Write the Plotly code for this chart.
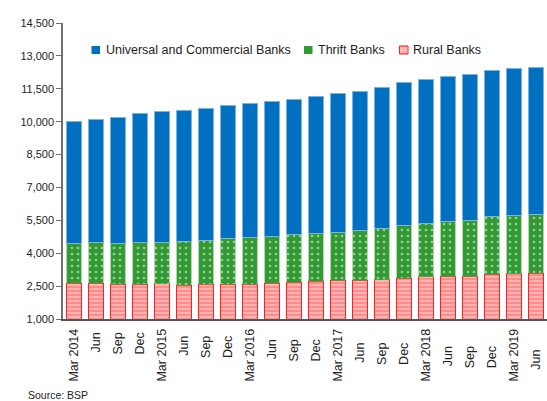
import plotly.graph_objects as go

categories = ["Mar 2014", "Jun ", "Sep ", "Dec ",
              "Mar 2015", "Jun  ", "Sep  ", "Dec  ",
              "Mar 2016", "Jun   ", "Sep   ", "Dec   ",
              "Mar 2017", "Jun    ", "Sep    ", "Dec    ",
              "Mar 2018", "Jun     ", "Sep     ", "Dec     ",
              "Mar 2019", "Jun      "]

rural = [2620, 2620, 2580, 2590, 2610, 2530, 2580, 2590, 2590, 2640, 2680,
         2730, 2760, 2770, 2800, 2860, 2930, 2940, 2940, 3030, 3060, 3090]
thrift = [1820, 1870, 1850, 1900, 1890, 2000, 2010, 2060, 2110, 2130, 2170,
          2170, 2180, 2260, 2320, 2400, 2420, 2500, 2550, 2650, 2650, 2680]
ukb = [5580, 5630, 5780, 5870, 5950, 6000, 6030, 6110, 6150, 6170, 6180,
       6270, 6330, 6365, 6440, 6530, 6580, 6620, 6645, 6670, 6720, 6715]

tick_vals = [1000, 2500, 4000, 5500, 7000, 8500, 10000, 11500, 13000, 14500]

legend_names = ["Universal and Commercial Banks", "Thrift Banks", "Rural Banks"]
legend_colors = ["#0070c0", "#339933", "#ff8c8c"]

W, H = 547, 401
L, R, T, B = 63, 0, 23, 82
PW, PH = W - L - R, H - T - B


def px(x):
    return (x - L) / PW


def py(y):
    return (H - B - y) / PH


fig = go.Figure()
fig.add_trace(go.Bar(
    x=categories, y=rural, name=legend_names[2], showlegend=False,
    marker=dict(color="#ff8c8c", line=dict(color="#ff2020", width=1),
                pattern=dict(shape="-", fgcolor="white", bgcolor="#ff8c8c",
                             size=4, solidity=0.35))))
fig.add_trace(go.Bar(
    x=categories, y=thrift, name=legend_names[1], showlegend=False,
    marker=dict(color="#339933", line=dict(color="#5cb85c", width=0.5),
                pattern=dict(shape=".", fgcolor="white", bgcolor="#339933",
                             size=6, solidity=0.15))))
fig.add_trace(go.Bar(
    x=categories, y=ukb, name=legend_names[0], showlegend=False,
    marker=dict(color="#0070c0", line=dict(color="#7fb2dd", width=1))))

# manual legend (swatch left x, text left x), pixel positions
legend_pos = [(91.5, 104), (304, 316), (399.5, 411)]
shapes = []
annotations = []
for (sx, tx), name, col in zip(legend_pos, legend_names, legend_colors):
    shapes.append(dict(type="rect", xref="paper", yref="paper",
                       x0=px(sx), x1=px(sx + 8.5), y0=py(54), y1=py(46),
                       fillcolor=col, line=dict(width=0)))
    annotations.append(dict(text=name, x=px(tx), y=py(50), xref="paper",
                            yref="paper", xanchor="left", yanchor="middle",
                            showarrow=False, font=dict(size=12.5)))
# stripes on rural swatch
sx = legend_pos[2][0]
shapes.append(dict(type="rect", xref="paper", yref="paper",
                   x0=px(sx), x1=px(sx + 8.5), y0=py(54), y1=py(46),
                   fillcolor="rgba(0,0,0,0)", line=dict(color="#ff2020", width=1)))
for yy in (48, 50, 52):
    shapes.append(dict(type="line", xref="paper", yref="paper",
                       x0=px(sx + 0.5), x1=px(sx + 8), y0=py(yy), y1=py(yy),
                       line=dict(color="white", width=0.8)))

annotations.append(dict(text="Source: BSP", x=px(26), y=py(395), xref="paper",
                        yref="paper", xanchor="left", yanchor="middle",
                        showarrow=False, font=dict(size=10.5)))

fig.update_layout(
    barmode="stack", bargap=0.32,
    width=W, height=H,
    margin=dict(l=L, r=R, t=T, b=B),
    plot_bgcolor="white", paper_bgcolor="white",
    font=dict(family="Liberation Sans", size=11, color="#222222"),
    showlegend=False,
    xaxis=dict(tickangle=-90, showline=True, linecolor="#555555", linewidth=1.5,
               ticks="", tickfont=dict(size=12.5), showgrid=False,
               ticklabelstandoff=3),
    yaxis=dict(range=[1000, 14500], tickvals=tick_vals, tickformat=",d",
               showline=True, linecolor="#707070", linewidth=1.5,
               ticks="outside", ticklen=5, tickcolor="#707070",
               showgrid=False, zeroline=False, tickfont=dict(size=11)),
    shapes=shapes,
    annotations=annotations,
)

fig.write_html("out.html")
